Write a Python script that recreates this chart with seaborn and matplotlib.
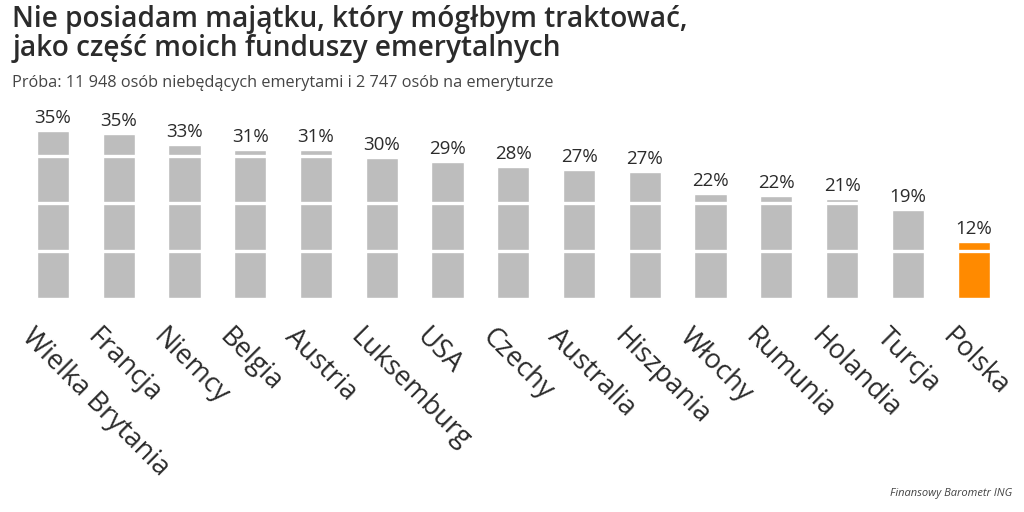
import matplotlib
matplotlib.use("Agg")
import matplotlib.pyplot as plt
import matplotlib.transforms as mtransforms
import seaborn as sns
import pandas as pd

sns.set_theme(style="white")
plt.rcParams['font.family'] = ['Open Sans', 'DejaVu Sans']

countries = ["Wielka Brytania", "Francja", "Niemcy", "Belgia", "Austria",
             "Luksemburg", "USA", "Czechy", "Australia", "Hiszpania",
             "Włochy", "Rumunia", "Holandia", "Turcja", "Polska"]
shares = [35.2, 34.6, 32.4, 31.2, 31.2, 29.6, 28.7, 27.7, 27.0, 26.6,
          22.0, 21.6, 20.9, 18.6, 11.9]
labels = ["35%", "35%", "33%", "31%", "31%", "30%", "29%", "28%", "27%", "27%",
          "22%", "22%", "21%", "19%", "12%"]
highlight = "Polska"

GRAY = "#BDBDBD"
ORANGE = "#FF8A00"
TEXT = "#2b2b2b"

df = pd.DataFrame({"country": countries, "share": shares})
colors = [ORANGE if c == highlight else GRAY for c in countries]

fig = plt.figure(figsize=(10.24, 5.12), dpi=100)
ax = fig.add_axes([0.0195, 0.418, 0.9635, 0.370])

sns.barplot(data=df, x="country", y="share", hue="country", palette=colors,
            legend=False, width=0.49, saturation=1, ax=ax, zorder=1)

ax.set_ylim(0, 40)
ax.set_xlim(-0.5, len(countries) - 0.5)

# white separator lines cut through the bars
for y in (10, 20, 30):
    ax.axhline(y, color="white", lw=2.4, zorder=3)

for i, (v, lab) in enumerate(zip(shares, labels)):
    ax.text(i, v + 0.8, lab, ha="center", va="bottom", fontsize=13.5,
            color=TEXT, zorder=4)

ax.set_xlabel("")
ax.set_ylabel("")
ax.set_yticks([])
ax.tick_params(axis="x", length=0, pad=0)
ax.set_xticks(range(len(countries)))
ax.set_xticklabels(countries, rotation=-45, ha="left", va="center",
                   rotation_mode="anchor", fontsize=19.5, color=TEXT)
offset = mtransforms.ScaledTranslation(-27 / 100, -35 / 100, fig.dpi_scale_trans)
for lbl in ax.get_xticklabels():
    lbl.set_transform(lbl.get_transform() + offset)

for s in ax.spines.values():
    s.set_visible(False)

fig.text(0.012, 0.99, "Nie posiadam majątku, który mógłbym traktować,\njako część moich funduszy emerytalnych",
         ha="left", va="top", fontsize=20.2, fontweight="semibold", color=TEXT,
         linespacing=1.0)
fig.text(0.012, 0.838, "Próba: 11 948 osób niebędących emerytami i 2 747 osób na emeryturze",
         ha="left", va="center", fontsize=11.7, color="#444444")
fig.text(0.989, 0.036, "Finansowy Barometr ING", ha="right", va="center",
         fontsize=8, style="italic", color="#444444")

fig.savefig("out.png", dpi=100, facecolor="white")
